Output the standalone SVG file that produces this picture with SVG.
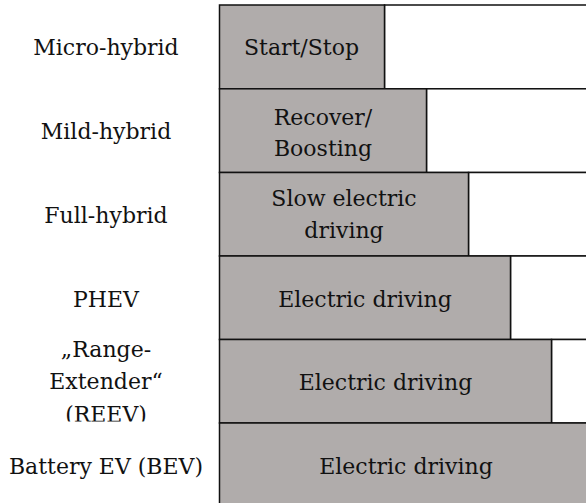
<svg xmlns="http://www.w3.org/2000/svg" width="586" height="503" viewBox="0 0 586 503">
<style>
.bar{fill:#b0acab;stroke:#111;stroke-width:1.5}
.rest{fill:#fff;stroke:#111;stroke-width:1.5}
text{font-family:"DejaVu Serif","Liberation Serif",serif;font-size:22px;fill:#111;text-anchor:middle}
</style>
<defs>
<clipPath id="clipReev"><rect x="0" y="330" width="219" height="91.6"/></clipPath>
</defs>
<rect width="586" height="503" fill="#fff"/>
<g id="row-micro">
<rect class="rest" x="384.5" y="5" width="220" height="83.8"/>
<rect class="bar" x="219.5" y="5" width="165" height="83.8"/>
<text x="301.5" y="55">Start/Stop</text>
<text x="106" y="55">Micro-hybrid</text>
</g>
<g id="row-mild">
<rect class="rest" x="426.5" y="88.8" width="200" height="83.7"/>
<rect class="bar" x="219.5" y="88.8" width="207" height="83.7"/>
<text x="323" y="124.5">Recover/</text>
<text x="323" y="156">Boosting</text>
<text x="106" y="139">Mild-hybrid</text>
</g>
<g id="row-full">
<rect class="rest" x="468.5" y="172.5" width="200" height="83.5"/>
<rect class="bar" x="219.5" y="172.5" width="249" height="83.5"/>
<text x="344" y="206">Slow electric</text>
<text x="344" y="238">driving</text>
<text x="106" y="222.5">Full-hybrid</text>
</g>
<g id="row-phev">
<rect class="rest" x="510.5" y="256" width="200" height="83.5"/>
<rect class="bar" x="219.5" y="256" width="291" height="83.5"/>
<text x="365" y="306.5">Electric driving</text>
<text x="106" y="306.5">PHEV</text>
</g>
<g id="row-reev">
<rect class="rest" x="551.5" y="339.5" width="200" height="83.5"/>
<rect class="bar" x="219.5" y="339.5" width="332" height="83.5"/>
<text x="385.5" y="390">Electric driving</text>
<g clip-path="url(#clipReev)">
<text x="106" y="357">„Range-</text>
<text x="106" y="389">Extender“</text>
<text x="106" y="422">(REEV)</text>
</g>
</g>
<g id="row-bev">
<rect class="bar" x="219.5" y="423" width="374" height="83.5"/>
<text x="406" y="473.5">Electric driving</text>
<text x="106" y="473.5">Battery EV (BEV)</text>
</g>
</svg>
